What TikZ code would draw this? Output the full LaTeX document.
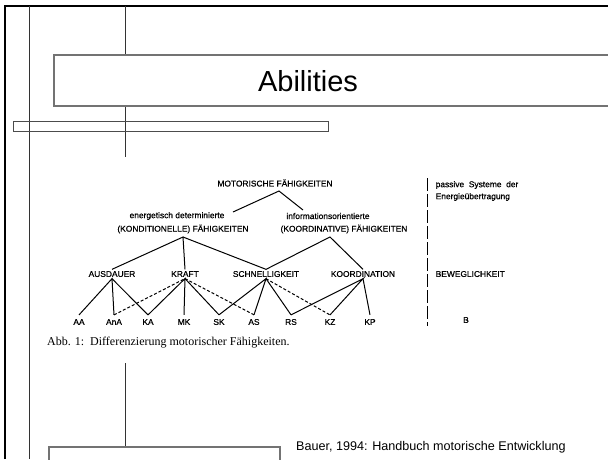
\documentclass[tikz,border=0pt]{standalone}
\usepackage{fontspec}
\setmainfont{Liberation Sans}
\newfontfamily\seriffont{Liberation Serif}
\newfontfamily\diagfont[FakeBold=0.6]{Liberation Sans}
\begin{document}
\begin{tikzpicture}[x=1pt,y=-1pt,
  frame/.style={line width=2pt,black},
  guide/.style={line width=0.8pt,black!80},
  greybox/.style={draw=black!55,line width=1.1pt,fill=white},
  lbl/.style={font=\diagfont\fontsize{8.4}{9}\selectfont,inner sep=1.5pt},
  leaf/.style={lbl,inner ysep=4pt},
  link/.style={line width=1pt,black},
  dlink/.style={link,dash pattern=on 3pt off 2pt},
  sep/.style={line width=1pt,black,dash pattern=on 13pt off 3pt}]
\useasboundingbox (0,0) rectangle (608,459);
\fill[white] (0,0) rectangle (608,459);
% page frame and guide lines
\draw[frame] (4.5,459) -- (4.5,5.5) -- (608,5.5);
\draw[guide] (29,5.5) -- (29,459);
\draw[guide] (125.5,5.5) -- (125.5,157);
\draw[guide] (125.5,363) -- (125.5,447);
% title box
\draw[greybox] (54,55) rectangle (612,106);
\node (title) at (308,81) {\fontsize{29}{32}\selectfont Abilities};
% thin bar
\draw[draw=black!70,line width=0.9pt] (13,121.5) rectangle (328,131);
% bottom box
\draw[greybox] (49,462) -- (49,447) -- (280,447) -- (280,462);
\node[anchor=west,inner sep=0pt] (src) at (296,447) {\fontsize{12.6}{14}\selectfont Bauer, 1994: Handbuch motorische Entwicklung};
% diagram
\node[lbl] (mot) at (275,183) {MOTORISCHE FÄHIGKEITEN};
\node[lbl] (en) at (177,216) {energetisch determinierte};
\node[lbl] (kon) at (183,229) {(KONDITIONELLE) FÄHIGKEITEN};
\node[lbl] (inf) at (328,216) {informationsorientierte};
\node[lbl] (koo) at (344,229) {(KOORDINATIVE) FÄHIGKEITEN};
\coordinate (a0) at (279,191);
\coordinate (e0) at (233,212);
\coordinate (i0) at (303,210);
\coordinate (a1) at (183,237);
\coordinate (a2) at (330,237);
\draw[link] (e0) -- (a0) -- (i0);
\node[lbl] (aus) at (112,274) {AUSDAUER};
\node[lbl] (kra) at (185,274) {KRAFT};
\node[lbl] (sch) at (266,274) {SCHNELLIGKEIT};
\node[lbl] (kor) at (363,274) {KOORDINATION};
\draw[link] (aus.north) -- (a1) -- (kra.north);
\draw[link] (a1) -- (sch.north) -- (a2) -- (kor.north);
\node[leaf] (aa) at (79,322) {AA};
\node[leaf] (ana) at (114,322) {AnA};
\node[leaf] (ka) at (148,322) {KA};
\node[leaf] (mk) at (184,322) {MK};
\node[leaf] (sk) at (219,322) {SK};
\node[leaf] (as) at (254,322) {AS};
\node[leaf] (rs) at (291,322) {RS};
\node[leaf] (kz) at (330,322) {KZ};
\node[leaf] (kp) at (370,322) {KP};
\draw[link] (aa.north) -- (aus.south) -- (ana.north);
\draw[link] (aus.south) -- (ka.north);
\draw[dlink] (ana.north) -- (kra.south);
\draw[link] (ka.north) -- (kra.south) -- (mk.north);
\draw[link] (kra.south) -- (sk.north);
\draw[dlink] (kra.south) -- (as.north);
\draw[link] (sk.north) -- (sch.south) -- (as.north);
\draw[link] (sch.south) -- (rs.north);
\draw[dlink] (sch.south) -- (kz.north);
\draw[link] (rs.north) -- (kor.south) -- (kz.north);
\draw[link] (kor.south) -- (kp.north);
% right column
\coordinate (s0) at (427,178);
\coordinate (s1) at (427,326);
\draw[sep] (s0) -- (s1);
\node[lbl,anchor=west] (pas) at (434,185) {passive\ \ Systeme\ \ der};
\node[lbl,anchor=west] (ene) at (434,197) {Energieübertragung};
\node[lbl,anchor=west] (bew) at (434,274) {BEWEGLICHKEIT};
\node[lbl] (b) at (466,320) {B};
% caption
\node[anchor=west,inner sep=0pt] (cap) at (47,343) {\seriffont\fontsize{12}{14}\selectfont Abb. 1:\ \ Differenzierung motorischer Fähigkeiten.};
\end{tikzpicture}
\end{document}
